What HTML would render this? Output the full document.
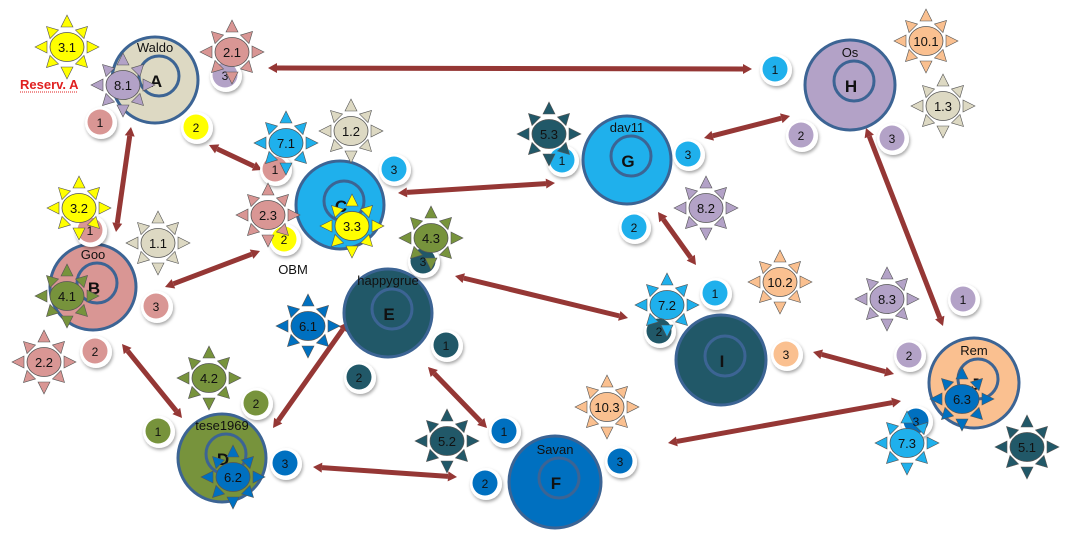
<!DOCTYPE html>
<html><head><meta charset="utf-8"><style>
html,body{margin:0;padding:0;background:#fff;width:1081px;height:542px;overflow:hidden}
svg{display:block;font-family:"Liberation Sans",sans-serif}
</style></head><body>
<svg id="s" width="1081" height="542" viewBox="0 0 1081 542" xmlns="http://www.w3.org/2000/svg">
<defs>
<filter id="sh" x="-50%" y="-50%" width="200%" height="200%"><feDropShadow dx="1" dy="2" stdDeviation="1.5" flood-color="#000" flood-opacity="0.35"/></filter>
</defs>
<g id="arrows"></g><g id="nodes"></g><g id="smalls"></g><g id="suns"></g>
<text x="20" y="89" font-size="13" font-weight="bold" fill="#e02020">Reserv. A</text>
<line x1="20" y1="92" x2="78" y2="92" stroke="#e02020" stroke-width="1" stroke-dasharray="1,1"/>
<text x="293" y="274" font-size="13" text-anchor="middle" fill="#111">OBM</text>
</svg>
<script>
var NS="http://www.w3.org/2000/svg";
function el(p,t,a,txt){var e=document.createElementNS(NS,t);for(var k in a)e.setAttribute(k,a[k]);if(txt!=null)e.textContent=txt;document.getElementById(p).appendChild(e);return e;}
var dark="#953735";
function arrow(x1,y1,x2,y2){
 var dx=x2-x1,dy=y2-y1,L=Math.sqrt(dx*dx+dy*dy),ux=dx/L,uy=dy/L,px=-uy,py=ux,h=9,w=5;
 el("arrows","line",{x1:x1+ux*h,y1:y1+uy*h,x2:x2-ux*h,y2:y2-uy*h,stroke:dark,"stroke-width":5});
 [[x1,y1,1],[x2,y2,-1]].forEach(function(p){var bx=p[0]+ux*h*p[2],by=p[1]+uy*h*p[2];
  el("arrows","polygon",{points:p[0]+","+p[1]+" "+(bx+px*w)+","+(by+py*w)+" "+(bx-px*w)+","+(by-py*w),fill:dark});});
}
[[268,68,752,69],[131,127,116,232],[209,145,262,170],[398,193,555,183],[704,138,790,116],[165,287,260,251],[455,276,628,318],[658,212,696,265],[866,128,943,326],[813,352,894,374],[122,344,182,418],[273,428,348,322],[428,367,487,428],[313,467,457,477],[668,443,901,401]].forEach(function(a){arrow.apply(null,a)});
function node(x,y,r,fill,name,letter,tc){
 el("nodes","circle",{cx:x,cy:y,r:r,fill:fill,stroke:"#3c6494","stroke-width":3});
 el("nodes","circle",{cx:x+4,cy:y-4,r:20,fill:"none",stroke:"#3c6494","stroke-width":3});
 el("nodes","text",{x:x,y:y-28,"font-size":13,"text-anchor":"middle",fill:tc||"#111"},name);
 el("nodes","text",{x:x+1,y:y+7,"font-size":17,"font-weight":"bold","text-anchor":"middle",fill:"#111"},letter);
}
node(155,80,43,"#ddd9c3","Waldo","A");
node(93,287,43,"#d99694","Goo","B");
node(340,205,44,"#1fb0ec","","C");
node(222,458,44,"#77933c","tese1969","D");
node(388,313,44,"#215868","happygrue","E");
node(555,482,46,"#0070c0","Savan","F");
node(627,160,44,"#1fb0ec","dav11","G");
node(850,85,45,"#b3a2c7","Os","H");
node(721,360,45,"#215868","","I");
node(974,383,45,"#fac090","Rem","J");
var C={y:"#ffff00",p:"#b3a2c7",k:"#d99694",b:"#1fb0ec",e:"#ddd9c3",g:"#77933c",t:"#215868",d:"#0070c0",o:"#fac090"};
function small(x,y,c,t){
 el("smalls","circle",{cx:x,cy:y,r:16,fill:"#fff",filter:"url(#sh)"});
 el("smalls","circle",{cx:x-1,cy:y-1,r:12.5,fill:C[c]});
 el("smalls","text",{x:x-1,y:y+4,"font-size":12,"text-anchor":"middle",fill:"#111"},t);
}
[[101,123,"k","1"],[197,128,"y","2"],[226,76,"p","3"],[276,170,"k","1"],[395,170,"b","3"],[285,240,"y","2"],[91,231,"k","1"],[157,307,"k","3"],[96,352,"k","2"],[159,432,"g","1"],[257,404,"g","2"],[286,464,"d","3"],[360,378,"t","2"],[447,346,"t","1"],[424,262,"t","3"],[505,432,"d","1"],[486,484,"d","2"],[621,462,"d","3"],[563,161,"b","1"],[689,155,"b","3"],[635,228,"b","2"],[776,70,"b","1"],[802,136,"p","2"],[893,139,"p","3"],[716,294,"b","1"],[660,332,"t","2"],[787,355,"o","3"],[964,300,"p","1"],[910,356,"p","2"],[917,422,"d","3"]].forEach(function(a){small.apply(null,a)});
function sun(x,y,c,t){
 var f=C[c];
 for(var i=0;i<8;i++){var a=i*Math.PI/4,ca=Math.cos(a),sa=Math.sin(a),qx=-sa,qy=ca,r0=(i%2?18:20),r1=(i%2?29:32),w=6;
  el("suns","polygon",{points:(x+ca*r1)+","+(y+sa*r1)+" "+(x+ca*r0+qx*w)+","+(y+sa*r0+qy*w)+" "+(x+ca*r0-qx*w)+","+(y+sa*r0-qy*w),fill:f,stroke:"#555","stroke-width":0.6});}
 el("suns","ellipse",{cx:x,cy:y,rx:17,ry:14.5,fill:f,stroke:"#555","stroke-width":0.8});
 el("suns","text",{x:x,y:y+5,"font-size":13,"text-anchor":"middle",fill:"#111"},t);
}
[[67,47,"y","3.1"],[123,85,"p","8.1"],[232,52,"k","2.1"],[286,143,"b","7.1"],[351,131,"e","1.2"],[79,208,"y","3.2"],[158,243,"e","1.1"],[268,215,"k","2.3"],[352,226,"y","3.3"],[431,238,"g","4.3"],[67,296,"g","4.1"],[44,362,"k","2.2"],[308,326,"d","6.1"],[209,378,"g","4.2"],[233,477,"d","6.2"],[447,441,"t","5.2"],[607,407,"o","10.3"],[549,134,"t","5.3"],[706,208,"p","8.2"],[667,305,"b","7.2"],[780,282,"o","10.2"],[926,41,"o","10.1"],[943,106,"e","1.3"],[887,299,"p","8.3"],[962,399,"d","6.3"],[907,443,"b","7.3"],[1027,447,"t","5.1"]].forEach(function(a){sun.apply(null,a)});
</script>
</body></html>
